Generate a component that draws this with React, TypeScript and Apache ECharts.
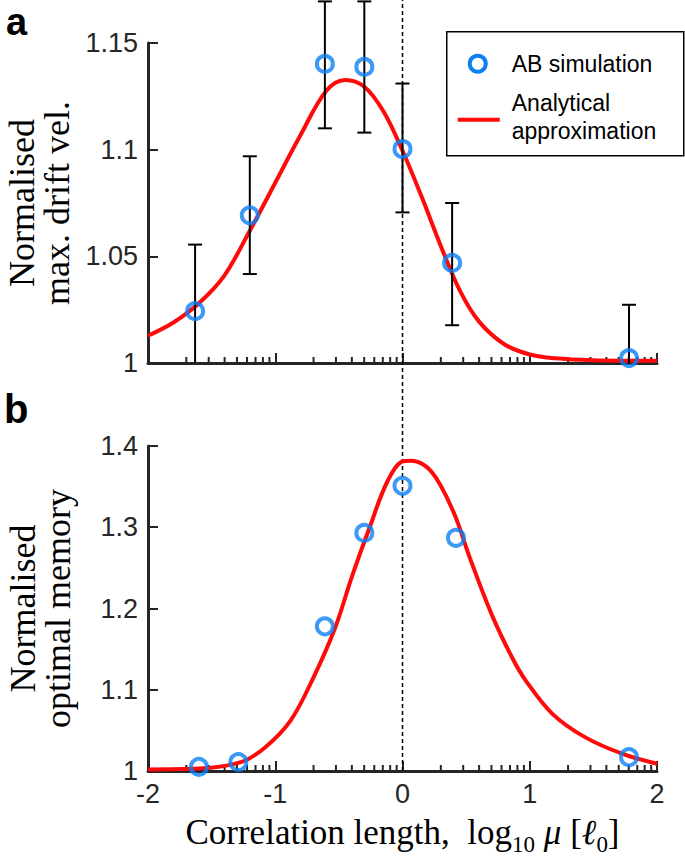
import React, { useEffect, useRef } from "react";
import * as echarts from "echarts";

// ---- Panel a: normalised max. drift velocity ----
const simXA = [-1.63, -1.2, -0.61, -0.3, 0.0, 0.39, 1.78];
const simYA = [1.0243, 1.0692, 1.1402, 1.1388, 1.1003, 1.0469, 1.0023];
const errLoA = [0.993, 1.0417, 1.11, 1.108, 1.0706, 1.0177, 0.977];
const errHiA = [1.0555, 1.0969, 1.1695, 1.1695, 1.131, 1.075, 1.0273];
const curveXA = [-2, -1.8, -1.6, -1.4, -1.2, -1.0, -0.8, -0.6, -0.45, -0.3, -0.15, 0, 0.15, 0.3, 0.45, 0.6, 0.8, 1.0, 1.2, 1.5, 2];
const curveYA = [1.0128, 1.019, 1.028, 1.041, 1.062, 1.0845, 1.107, 1.1275, 1.1327, 1.1295, 1.118, 1.0995, 1.078, 1.055, 1.034, 1.0195, 1.0088, 1.004, 1.0022, 1.0013, 1.001];

// ---- Panel b: normalised optimal memory ----
const simXB = [-1.6, -1.29, -0.61, -0.3, 0.0, 0.42, 1.78];
const simYB = [1.005, 1.011, 1.178, 1.293, 1.351, 1.287, 1.017];
const curveXB = [-2, -1.6, -1.27, -1.08, -0.88, -0.7, -0.53, -0.4, -0.26, -0.12, 0, 0.07, 0.23, 0.4, 0.53, 0.7, 0.86, 0.97, 1.18, 1.43, 1.73, 2];
const curveYB = [1.002, 1.003, 1.011, 1.029, 1.062, 1.115, 1.176, 1.238, 1.299, 1.356, 1.381, 1.382, 1.368, 1.319, 1.262, 1.193, 1.14, 1.111, 1.07, 1.042, 1.021, 1.009];

// axis ranges / tick labels
const xMin = -2;
const xMax = 2;
const xStep = 1;
const yRangeA = [1, 1.15];
const yStepA = 0.05;
const yRangeB = [1, 1.4];
const yStepB = 0.1;
const referenceX = 0;

const legendNames = ["AB simulation", "Analytical", "approximation"];
const yTitleA = "Normalised\nmax. drift vel.";
const yTitleB = "Normalised\noptimal memory";

const AXIS = "#262626";
const BLUE = "#0b80f2";
const RED = "#ff0a0a";
const SANS = "Liberation Sans";
const SERIF = "Liberation Serif";

// log-style minor tick positions inside each decade
const minorTicks: number[] = [];
for (let d = xMin; d < xMax; d++) {
  for (let k = 2; k <= 9; k++) minorTicks.push(d + Math.log10(k));
}

function makeAxes(grid: number, showLabels: boolean) {
  return {
    gridIndex: grid,
    type: "value",
    min: xMin,
    max: xMax,
    interval: xStep,
    axisLine: { onZero: false, lineStyle: { color: AXIS, width: 3 } },
    axisTick: { inside: true, length: 10, lineStyle: { color: AXIS, width: 2 } },
    axisLabel: {
      show: showLabels,
      fontSize: 27,
      color: AXIS,
      fontFamily: SANS,
      margin: 9,
    },
    splitLine: { show: false },
  };
}

function makeY(grid: number, range: number[], step: number, title: string) {
  return {
    gridIndex: grid,
    type: "value",
    min: range[0],
    max: range[1],
    interval: step,
    name: title,
    nameLocation: "middle",
    nameRotate: 90,
    nameGap: 73,
    nameTextStyle: {
      fontFamily: SERIF,
      fontSize: 36,
      lineHeight: 35,
      color: "#000",
    },
    axisLine: { show: true, onZero: false, lineStyle: { color: AXIS, width: 3 } },
    axisTick: { show: true, inside: true, length: 10, lineStyle: { color: AXIS, width: 2 } },
    axisLabel: { fontSize: 27, color: AXIS, fontFamily: SANS, margin: 10 },
    splitLine: { show: false },
  };
}

function minorTickSeries(grid: number, yBase: number) {
  return {
    type: "custom",
    xAxisIndex: grid,
    yAxisIndex: grid,
    silent: true,
    clip: false,
    z: 3,
    data: minorTicks.map((v) => [v, yBase]),
    encode: { x: 0, y: 1 },
    renderItem: (_p: any, api: any) => {
      const p = api.coord([api.value(0), api.value(1)]);
      return {
        type: "line",
        shape: { x1: p[0], y1: p[1], x2: p[0], y2: p[1] - 6 },
        style: { stroke: AXIS, lineWidth: 2 },
      };
    },
  };
}

export default function App() {
  const ref = useRef<HTMLDivElement>(null);
  useEffect(() => {
    if (!ref.current) return;
    const chart = echarts.init(ref.current, undefined, { renderer: "svg" });
    const option: any = {
      animation: false,
      backgroundColor: "#fff",
      textStyle: { fontFamily: SANS },
      grid: [
        { left: 148, top: 43, width: 509, height: 320, outerBoundsMode: "none", containLabel: false },
        { left: 148, top: 446, width: 509, height: 325, outerBoundsMode: "none", containLabel: false },
      ],
      xAxis: [
        makeAxes(0, false),
        {
          ...makeAxes(1, true),
          name:
            "{n|Correlation length,  log}{s|10}{m| μ}{n| [}{m|ℓ}{s|0}{n|]}",
          nameLocation: "middle",
          nameGap: 44,
          nameTextStyle: {
            rich: {
              n: { fontFamily: SERIF, fontSize: 35, lineHeight: 36, verticalAlign: "top", color: "#000" },
              m: { fontFamily: SERIF, fontStyle: "italic", fontSize: 35, lineHeight: 36, verticalAlign: "top", color: "#000" },
              s: { fontFamily: SERIF, fontSize: 23, lineHeight: 23, padding: [18, 0, 0, 0], verticalAlign: "top", color: "#000" },
            },
          },
        },
      ],
      yAxis: [makeY(0, yRangeA, yStepA, yTitleA), makeY(1, yRangeB, yStepB, yTitleB)],
      series: [
        // dashed reference line at x = 0 through both panels
        {
          type: "custom",
          xAxisIndex: 1,
          yAxisIndex: 1,
          silent: true,
          clip: false,
          z: 1,
          data: [[referenceX, yRangeB[0]]],
          encode: { x: 0, y: 1 },
          renderItem: (_p: any, api: any) => {
            const p = api.coord([api.value(0), api.value(1)]);
            return {
              type: "line",
              shape: { x1: p[0], y1: p[1], x2: p[0], y2: 0 },
              style: { stroke: "#000", lineWidth: 1.5, lineDash: [4, 3] },
            };
          },
        },
        minorTickSeries(0, yRangeA[0]),
        minorTickSeries(1, yRangeB[0]),
        {
          name: "Analytical approximation",
          type: "line",
          xAxisIndex: 0,
          yAxisIndex: 0,
          smooth: 0.35,
          symbol: "none",
          z: 3,
          lineStyle: { color: RED, width: 4 },
          data: curveXA.map((x, i) => [x, curveYA[i]]),
        },
        {
          type: "custom",
          xAxisIndex: 0,
          yAxisIndex: 0,
          clip: false,
          z: 4,
          data: simXA.map((x, i) => [x, errLoA[i], errHiA[i]]),
          encode: { x: 0, y: [1, 2] },
          renderItem: (_p: any, api: any) => {
            const x = api.value(0);
            const lo = api.value(1);
            const hi = api.value(2);
            const clipped = lo < yRangeA[0];
            const pLo = api.coord([x, clipped ? yRangeA[0] : lo]);
            const pHi = api.coord([x, hi]);
            const st = { stroke: "#000", lineWidth: 2 };
            const children: any[] = [
              { type: "line", shape: { x1: pLo[0], y1: pLo[1], x2: pHi[0], y2: pHi[1] }, style: st },
              { type: "line", shape: { x1: pHi[0] - 7, y1: pHi[1], x2: pHi[0] + 7, y2: pHi[1] }, style: st },
            ];
            if (!clipped)
              children.push({ type: "line", shape: { x1: pLo[0] - 7, y1: pLo[1], x2: pLo[0] + 7, y2: pLo[1] }, style: st });
            return { type: "group", children };
          },
        },
        {
          name: "AB simulation",
          type: "scatter",
          xAxisIndex: 0,
          yAxisIndex: 0,
          symbol: "circle",
          symbolSize: 16,
          z: 5,
          itemStyle: { color: "rgba(255,255,255,0)", borderColor: BLUE, borderWidth: 4 },
          data: simXA.map((x, i) => [x, simYA[i]]),
        },
        {
          type: "line",
          xAxisIndex: 1,
          yAxisIndex: 1,
          smooth: 0.35,
          symbol: "none",
          z: 3,
          lineStyle: { color: RED, width: 4 },
          data: curveXB.map((x, i) => [x, curveYB[i]]),
        },
        {
          type: "scatter",
          xAxisIndex: 1,
          yAxisIndex: 1,
          symbol: "circle",
          symbolSize: 16,
          z: 5,
          itemStyle: { color: "rgba(255,255,255,0)", borderColor: BLUE, borderWidth: 4 },
          data: simXB.map((x, i) => [x, simYB[i]]),
        },
      ],
      graphic: [
        {
          type: "text",
          left: 6,
          top: 3,
          style: { text: "a", font: "bold 38px 'Liberation Sans'", fill: "#000" },
        },
        {
          type: "text",
          left: 4,
          top: 389,
          style: { text: "b", font: "bold 40px 'Liberation Sans'", fill: "#000" },
        },
        {
          type: "group",
          left: 446,
          top: 31,
          children: [
            {
              type: "rect",
              shape: { x: 0, y: 0, width: 237, height: 124 },
              style: { fill: "#fff", stroke: "#000", lineWidth: 1.5 },
            },
            {
              type: "circle",
              shape: { cx: 31, cy: 32, r: 8 },
              style: { fill: "none", stroke: BLUE, lineWidth: 4 },
            },
            {
              type: "line",
              shape: { x1: 11, y1: 88, x2: 53, y2: 88 },
              style: { stroke: RED, lineWidth: 4 },
            },
            {
              type: "text",
              x: 65,
              y: 32,
              style: { text: legendNames[0], font: "23px 'Liberation Sans'", fill: "#000", verticalAlign: "middle" },
            },
            {
              type: "text",
              x: 65,
              y: 71,
              style: { text: legendNames[1], font: "23px 'Liberation Sans'", fill: "#000", verticalAlign: "middle" },
            },
            {
              type: "text",
              x: 65,
              y: 99,
              style: { text: legendNames[2], font: "23px 'Liberation Sans'", fill: "#000", verticalAlign: "middle" },
            },
          ],
        },
      ],
    };
    chart.setOption(option);
    return () => chart.dispose();
  }, []);
  return (
    <div
      ref={ref}
      style={{
        position: "fixed",
        left: 0,
        top: 0,
        width: 685,
        height: 859,
        background: "#fff",
        fontFamily: "'Liberation Sans', sans-serif",
      }}
    />
  );
}
